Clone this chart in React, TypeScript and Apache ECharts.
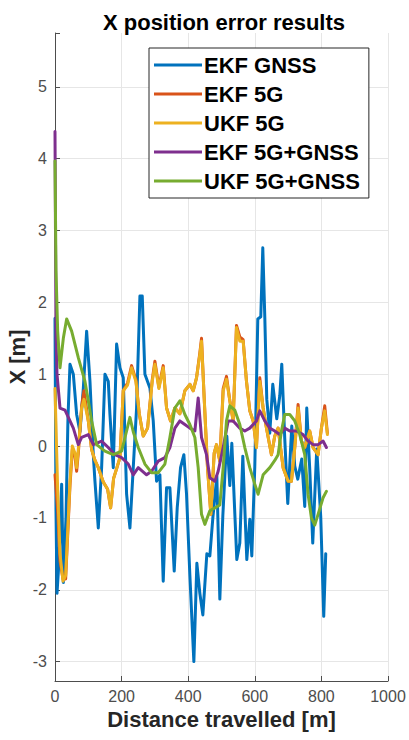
import React, { useEffect, useRef } from "react";
import * as echarts from "echarts";

const TITLE = "X position error results";
const X_NAME = "Distance travelled [m]";
const Y_NAME = "X [m]";
const SERIES_NAMES = ["EKF GNSS", "EKF 5G", "UKF 5G", "EKF 5G+GNSS", "UKF 5G+GNSS"];
const COLORS = ["#0072BD", "#D95319", "#EDB120", "#7E2F8E", "#77AC30"];

const gnssX = [0, 3, 6, 12, 20, 25, 33, 39, 45, 55, 65, 75, 85, 95, 105, 115, 120, 130, 140, 150, 160, 165, 175, 185, 195, 205, 215, 225, 235, 245, 255, 262, 270, 285, 295, 305, 315, 325, 335, 345, 358, 367, 377, 387, 395, 405, 417, 426, 435, 444, 456, 465, 474, 486, 495, 504, 516, 525, 531, 540, 546, 555, 564, 576, 585, 591, 600, 609, 618, 624, 630, 636, 645, 654, 666, 675, 681, 690, 699, 711, 720, 729, 741, 750, 756, 765, 774, 786, 798, 807, 813];
const gnssY = [1.78, -0.9, -2.05, -1.6, -0.53, -1.9, -1.0, 0.4, 1.14, 1.0, 0.44, 0.2, 0.8, 1.6, 0.9, -0.12, -0.49, -1.14, -0.3, 1.0, 0.9, 0.44, -0.3, 1.42, 1.09, 0.95, -0.67, -1.14, -0.3, 0.53, 2.09, 2.09, 1.0, 0.81, 0.35, -0.49, -0.4, -1.88, -0.58, -0.58, -1.74, -0.86, -0.3, -0.12, -0.67, -1.8, -3.0, -1.63, -2.05, -2.35, -1.5, -1.53, -1.0, -0.42, -2.13, -0.97, 0.14, -0.55, 0.04, -0.94, -1.58, -1.35, -0.14, -1.58, -1.02, -1.53, -0.28, 1.77, 1.8, 2.76, 1.8, 0.65, 0.18, 0.86, 0.38, 0.7, 1.14, 0.1, -0.8, 0.28, -0.28, -0.46, -0.18, -0.84, 0.53, -0.32, -1.35, -0.04, -0.98, -2.37, -1.5];

const fiveGX = [0, 8, 15, 24, 32, 45, 52, 60, 65, 70, 80, 87, 100, 110, 120, 130, 145, 158, 167, 176, 186, 195, 205, 218, 230, 243, 253, 265, 278, 292, 300, 312, 325, 335, 347, 360, 375, 390, 405, 415, 425, 435, 440, 448, 458, 468, 478, 485, 495, 505, 515, 525, 535, 545, 555, 565, 575, 585, 595, 605, 615, 625, 635, 650, 660, 670, 685, 700, 710, 720, 730, 740, 750, 765, 775, 790, 800, 810, 818];
const ekf5gY = [-0.4, -0.9, -1.6, -1.85, -1.85, -0.55, -0.05, -0.15, -0.35, -0.1, 0.55, 0.77, 0.35, -0.05, -0.2, -0.3, -0.5, -0.6, -0.86, -0.45, -0.3, -0.16, 0.77, 0.88, 1.12, 0.92, 0.45, 0.14, 0.25, 0.92, 1.18, 0.82, 1.12, 0.53, 0.35, 0.53, 0.45, 0.77, 0.86, 0.77, 0.95, 1.3, 1.5, 0.67, -0.3, -0.95, -0.1, 0.02, -0.21, 0.8, 0.97, 0.63, 0.35, 1.68, 1.52, 1.48, 0.9, 0.49, 0.35, -0.02, 0.95, 0.53, 0.25, -0.12, 0.14, 0.25, -0.3, -0.49, -0.49, -0.02, 0.58, 0.07, -0.02, 0.21, -0.02, -0.12, 0.25, 0.56, 0.18];
const ukf5gY = [0.8, -0.6, -1.5, -1.88, -1.8, -0.5, 0.0, -0.1, -0.3, -0.05, 0.53, 0.65, 0.35, -0.05, -0.2, -0.3, -0.5, -0.6, -0.86, -0.45, -0.3, -0.16, 0.77, 0.85, 1.09, 0.9, 0.45, 0.14, 0.25, 0.9, 1.14, 0.8, 1.09, 0.53, 0.35, 0.53, 0.45, 0.77, 0.86, 0.77, 0.95, 1.28, 1.46, 0.67, -0.3, -0.95, -0.1, 0.02, -0.21, 0.77, 0.93, 0.63, 0.35, 1.65, 1.46, 1.46, 0.9, 0.49, 0.35, -0.02, 0.9, 0.53, 0.25, -0.12, 0.14, 0.25, -0.3, -0.49, -0.49, -0.02, 0.53, 0.07, -0.02, 0.21, -0.02, -0.12, 0.25, 0.49, 0.16];

const ekfFusionX = [0, 3, 6, 15, 30, 45, 55, 70, 80, 100, 115, 140, 160, 180, 200, 220, 235, 250, 275, 290, 310, 330, 345, 360, 375, 390, 405, 420, 430, 440, 455, 465, 480, 490, 505, 520, 535, 555, 570, 585, 605, 615, 630, 645, 660, 675, 690, 705, 725, 745, 760, 775, 790, 805, 815];
const ekfFusionY = [4.38, 1.5, 1.0, 0.53, 0.5, 0.35, 0.25, 0.02, 0.12, 0.16, 0.02, 0.07, -0.02, -0.12, -0.16, -0.25, -0.4, -0.3, -0.4, -0.35, -0.21, -0.16, -0.02, 0.25, 0.35, 0.3, 0.25, 0.21, 0.67, 0.12, -0.12, -0.44, -0.49, -0.35, -0.02, 0.35, 0.35, 0.25, 0.21, 0.25, 0.35, 0.49, 0.35, 0.25, 0.21, 0.16, 0.25, 0.21, 0.21, 0.16, 0.07, 0.02, 0.02, 0.07, -0.02];

const ukfFusionX = [0, 3, 8, 15, 25, 35, 50, 70, 90, 100, 110, 125, 150, 175, 200, 215, 225, 235, 250, 270, 290, 310, 330, 345, 360, 375, 390, 405, 420, 430, 440, 450, 465, 480, 495, 505, 515, 525, 540, 555, 570, 585, 600, 610, 625, 645, 660, 670, 680, 690, 705, 720, 735, 750, 760, 770, 780, 790, 805, 815];
const ukfFusionY = [3.97, 2.44, 1.6, 1.09, 1.5, 1.77, 1.6, 1.23, 0.9, 0.63, 0.35, 0.02, -0.07, -0.12, -0.07, 0.21, 0.4, 0.2, -0.02, -0.25, -0.37, -0.37, -0.25, 0.12, 0.53, 0.63, 0.44, 0.3, 0.12, -0.3, -0.95, -1.09, -0.9, -0.86, -0.82, -0.3, 0.35, 0.56, 0.5, 0.3, -0.02, -0.3, -0.53, -0.67, -0.4, -0.3, -0.2, -0.12, 0.21, 0.44, 0.44, 0.35, 0.16, -0.12, -0.67, -1.0, -1.1, -0.95, -0.72, -0.63];

const X_MIN = 0;
const X_MAX = 1000;
const X_STEP = 200;
const Y_MIN = -3.27;
const Y_MAX = 5.75;

const pairs = (xs: number[], ys: number[]) => xs.map((x, i) => [x, ys[i]]);

export default function App() {
  const ref = useRef<HTMLDivElement>(null);
  useEffect(() => {
    if (!ref.current) return;
    const chart = echarts.init(ref.current, null, { renderer: "svg" });
    const seriesData = [
      pairs(gnssX, gnssY),
      pairs(fiveGX, ekf5gY),
      pairs(fiveGX, ukf5gY),
      pairs(ekfFusionX, ekfFusionY),
      pairs(ukfFusionX, ukfFusionY),
    ];
    const font = "Liberation Sans, Arial, Helvetica, sans-serif";
    chart.setOption({
      animation: false,
      title: {
        text: TITLE,
        left: 219,
        top: 6,
        textAlign: "center",
        textStyle: { fontFamily: font, fontSize: 22, fontWeight: "bold", color: "#000" },
      },
      legend: {
        orient: "vertical",
        left: 149,
        top: 48,
        padding: [6, 9, 6, 5],
        itemGap: 7,
        itemWidth: 48,
        itemHeight: 22,
        backgroundColor: "#fff",
        borderColor: "#262626",
        borderWidth: 1,
        borderRadius: 0,
        textStyle: { fontFamily: font, fontSize: 22, fontWeight: "bold", color: "#000", padding: [0, 0, 0, -3] },
        data: SERIES_NAMES.map((n) => ({ name: n, icon: "path://M0,0 L48,0 L48,3 L0,3 Z" })),
      },
      grid: { left: 55, right: 21, top: 33, bottom: 59, containLabel: false, outerBoundsMode: "none" },
      xAxis: {
        type: "value",
        min: X_MIN,
        max: X_MAX,
        interval: X_STEP,
        name: X_NAME,
        nameLocation: "middle",
        nameGap: 27,
        nameMoveOverlap: false,
        nameTextStyle: { fontFamily: font, fontSize: 22, fontWeight: "bold", color: "#262626" },
        axisLine: { show: true, onZero: false, lineStyle: { color: "#4d4d4d", width: 1 } },
        axisTick: { show: true, inside: true, length: 5, lineStyle: { color: "#4d4d4d" } },
        axisLabel: { fontFamily: font, fontSize: 16, color: "#4d4d4d", margin: 7, formatter: (v: number) => String(v) },
        splitLine: { show: true, lineStyle: { color: "#e6e6e6", width: 1 } },
      },
      yAxis: {
        type: "value",
        min: Y_MIN,
        max: Y_MAX,
        splitNumber: 9,
        minInterval: 1,
        maxInterval: 1,
        name: Y_NAME,
        nameLocation: "middle",
        nameGap: 27,
        nameMoveOverlap: false,
        nameTextStyle: { fontFamily: font, fontSize: 22, fontWeight: "bold", color: "#262626" },
        axisLine: { show: true, onZero: false, lineStyle: { color: "#4d4d4d", width: 1 } },
        axisTick: { show: true, inside: true, length: 5, lineStyle: { color: "#4d4d4d" } },
        axisLabel: {
          fontFamily: font,
          fontSize: 16,
          color: "#4d4d4d",
          margin: 8,
          formatter: (v: number) => (Math.abs(v - Math.round(v)) < 1e-6 ? String(Math.round(v)) : ""),
        },
        splitLine: { show: true, showMinLine: false, showMaxLine: false, lineStyle: { color: "#e6e6e6", width: 1 } },
      },
      series: SERIES_NAMES.map((name, i) => ({
        name,
        type: "line",
        data: seriesData[i],
        showSymbol: false,
        symbol: "none",
        color: COLORS[i],
        lineStyle: { color: COLORS[i], width: 3, join: "round", cap: "round" },
        z: 2 + i,
      })),
    });
    return () => chart.dispose();
  }, []);
  return (
    <div
      ref={ref}
      style={{ position: "fixed", left: 0, top: 0, width: 409, height: 740, background: "#fff" }}
    />
  );
}
